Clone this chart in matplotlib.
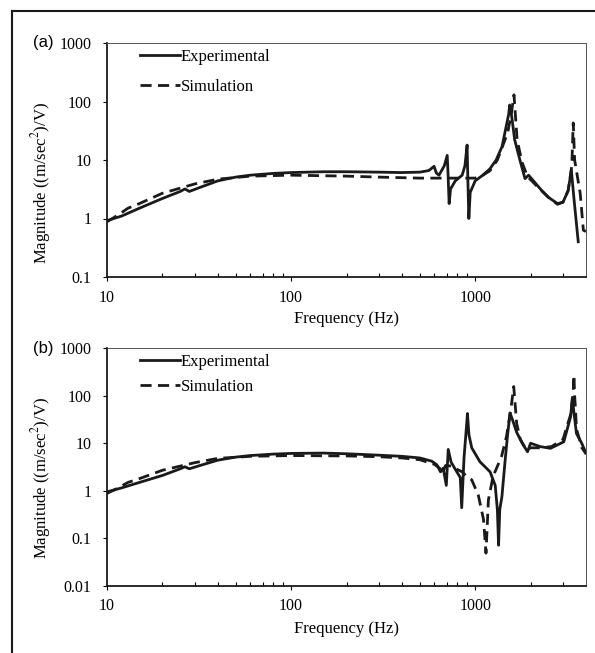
import matplotlib.pyplot as plt
from matplotlib.lines import Line2D
from matplotlib.ticker import NullLocator, FixedLocator

# (a) experimental / simulation
a_exp_f = [10, 12, 15, 20, 25, 26.5, 28, 32, 40, 50, 60, 80, 100, 150, 200, 300, 400, 500,
           560, 598, 615, 636, 680, 705, 712, 722, 735, 780, 850, 880, 904, 912, 924, 940,
           1000, 1100, 1200, 1300, 1400, 1480, 1520, 1540, 1580, 1640, 1750, 1865, 1950,
           2100, 2300, 2500, 2800, 3000, 3200, 3330, 3450, 3630]
a_exp_v = [0.92, 1.1, 1.5, 2.2, 2.9, 3.2, 2.9, 3.4, 4.4, 5.1, 5.5, 5.9, 6.1, 6.3, 6.3, 6.2, 6.1, 6.2,
           6.6, 7.8, 6.0, 5.5, 8.0, 12, 6, 1.8, 3.2, 4.4, 5.5, 8, 18, 5, 1.0, 2.8,
           4.4, 5.5, 7, 10, 17, 40, 60, 87, 55, 22, 10, 4.8, 5.5,
           4.2, 3.0, 2.3, 1.8, 1.9, 3.0, 6.7, 2.0, 0.4]

a_sim_f = [10, 11.5, 13, 15, 20, 30, 40, 60, 100, 200, 300, 500, 700, 1000, 1100, 1200, 1320,
           1500, 1570, 1625, 1690, 1800, 1925, 2000, 2200, 2500, 2800, 3000, 3200, 3350, 3410,
           3470, 3720, 3870, 4000]
a_sim_v = [0.88, 1.15, 1.5, 1.8, 2.7, 3.9, 4.7, 5.3, 5.5, 5.3, 5.1, 4.9, 4.9, 4.9, 5.5, 6.5, 10,
           29, 60, 130, 22, 9, 5.2, 4.6, 3.4, 2.3, 1.75, 1.9, 3.0, 8, 43,
           10, 2.7, 0.63, 0.6]

# (b) experimental / simulation
b_exp_f = [10, 12, 15, 20, 25, 26.5, 28, 32, 40, 50, 60, 80, 100, 150, 200, 300, 400, 500,
           580, 620, 648, 670, 697, 714, 740, 795, 830, 845, 870, 895, 908, 925, 958, 1060,
           1205, 1285, 1320, 1340, 1360, 1397, 1455, 1500, 1547, 1600, 1680, 1800, 1925, 2000,
           2250, 2565, 3030, 3300, 3370, 3450, 3550, 3790, 4000]
b_exp_v = [0.95, 1.15, 1.5, 2.1, 2.9, 3.2, 2.9, 3.4, 4.4, 5.1, 5.5, 5.9, 6.1, 6.2, 6.0, 5.6, 5.3, 4.9,
           4.2, 3.5, 2.5, 3.0, 1.3, 7.4, 4, 2.5, 1.9, 0.44, 5, 20, 42, 15, 8, 4.1,
           2.5, 1.3, 0.4, 0.072, 0.4, 0.75, 4.4, 15, 43, 30, 17, 10, 6.6, 10,
           8.5, 7.8, 10.7, 36, 89, 40, 16, 10, 6.2]

b_sim_f = [10, 11.5, 13, 15, 20, 30, 40, 60, 100, 200, 300, 400, 500, 600, 640, 665, 690, 750,
           800, 850, 900, 958, 1040, 1110, 1145, 1180, 1250, 1390, 1480, 1570, 1620, 1680, 1760,
           1900, 2000, 2300, 2600, 3000, 3300, 3400, 3440, 3470, 3500, 3550, 3800, 4000]
b_sim_v = [0.88, 1.15, 1.5, 1.8, 2.7, 3.9, 4.8, 5.3, 5.5, 5.4, 5.2, 4.9, 4.5, 3.6, 3.0, 2.3, 3.4, 3.3,
           2.8, 2.5, 2.0, 1.7, 0.81, 0.25, 0.049, 0.64, 2.0, 5.2, 14, 59, 155, 26, 12,
           7.2, 8, 8, 8.5, 12, 40, 100, 270, 100, 60, 20, 8, 6]

x_ticks = [10, 100, 1000]
x_labels = ["10", "100", "1000"]
ya_ticks = [0.1, 1, 10, 100, 1000]
ya_labels = ["0.1", "1", "10", "100", "1000"]
yb_ticks = [0.01, 0.1, 1, 10, 100, 1000]
yb_labels = ["0.01", "0.1", "1", "10", "100", "1000"]
minor_x = [20, 30, 40, 50, 60, 70, 80, 90, 200, 300, 400, 500, 600, 700, 800, 900, 2000, 3000]

serif = "Liberation Serif"
ink = "#1a1a1a"
plt.rcParams["mathtext.fontset"] = "stix"

fig = plt.figure(figsize=(5.95, 6.53), dpi=100)
W, H = 595, 653

# outer frame (only left and top edges visible)
fig.add_artist(Line2D([12 / W, 12 / W], [-0.01, 1 - 11 / H], color=ink, lw=1.5, transform=fig.transFigure))
fig.add_artist(Line2D([12 / W, 1.01], [1 - 11 / H, 1 - 11 / H], color=ink, lw=1.5, transform=fig.transFigure))

ax1 = fig.add_axes([107 / W, 1 - 277 / H, 479 / W, 234 / H])
ax2 = fig.add_axes([107 / W, 1 - 586 / H, 479 / W, 238 / H])

panels = [
    (ax1, a_exp_f, a_exp_v, a_sim_f, a_sim_v, ya_ticks, ya_labels, "(a)", 43, 0.40, 0.85),
    (ax2, b_exp_f, b_exp_v, b_sim_f, b_sim_v, yb_ticks, yb_labels, "(b)", 348, 0.454, 0.55),
]

for ax, ef, ev, sf, sv, yt, yl, tag, ytop, ylab_y, lsp in panels:
    ax.loglog(ef, ev, color=ink, lw=2.0, label="Experimental")
    ax.loglog(sf, sv, color=ink, lw=2.0, ls=(0, (4, 2.3)), label="Simulation")
    ax.set_xlim(10, 4000)
    ax.set_ylim(yt[0], yt[-1])
    ax.set_xticks(x_ticks)
    ax.set_xticklabels(x_labels, fontfamily=serif, fontsize=11.5)
    ax.xaxis.set_minor_locator(FixedLocator(minor_x))
    ax.set_yticks(yt)
    ax.set_yticklabels(yl, fontfamily=serif, fontsize=11.5)
    ax.yaxis.set_minor_locator(NullLocator())
    ax.tick_params(axis="x", which="major", direction="out", length=3, width=0.8, pad=6)
    ax.tick_params(axis="x", which="minor", direction="in", length=3, width=0.8)
    ax.tick_params(axis="y", which="major", direction="out", length=3, width=0.8, pad=8)
    for side in ["left", "bottom"]:
        ax.spines[side].set_linewidth(1.3)
        ax.spines[side].set_color(ink)
    for side in ["top", "right"]:
        ax.spines[side].set_linewidth(0.7)
        ax.spines[side].set_color("#555555")
    ax.set_xlabel("Frequency (Hz)", fontfamily=serif, fontsize=12)
    ax.xaxis.set_label_coords(0.5, -0.145)
    ax.set_ylabel("Magnitude ((m/sec$^2$)/V)", fontfamily=serif, fontsize=12)
    ax.yaxis.set_label_coords(-0.113, ylab_y)
    leg = ax.legend(loc="upper left", bbox_to_anchor=(0.069, 0.975), frameon=False,
                    handlelength=2.4, handletextpad=0.05, labelspacing=lsp,
                    borderpad=0, borderaxespad=0, prop={"family": serif, "size": 12})
    fig.text(33 / W, 1 - ytop / H, tag, fontfamily="Liberation Sans", fontsize=12, va="center", ha="left")

fig.savefig("out.png", dpi=100)
